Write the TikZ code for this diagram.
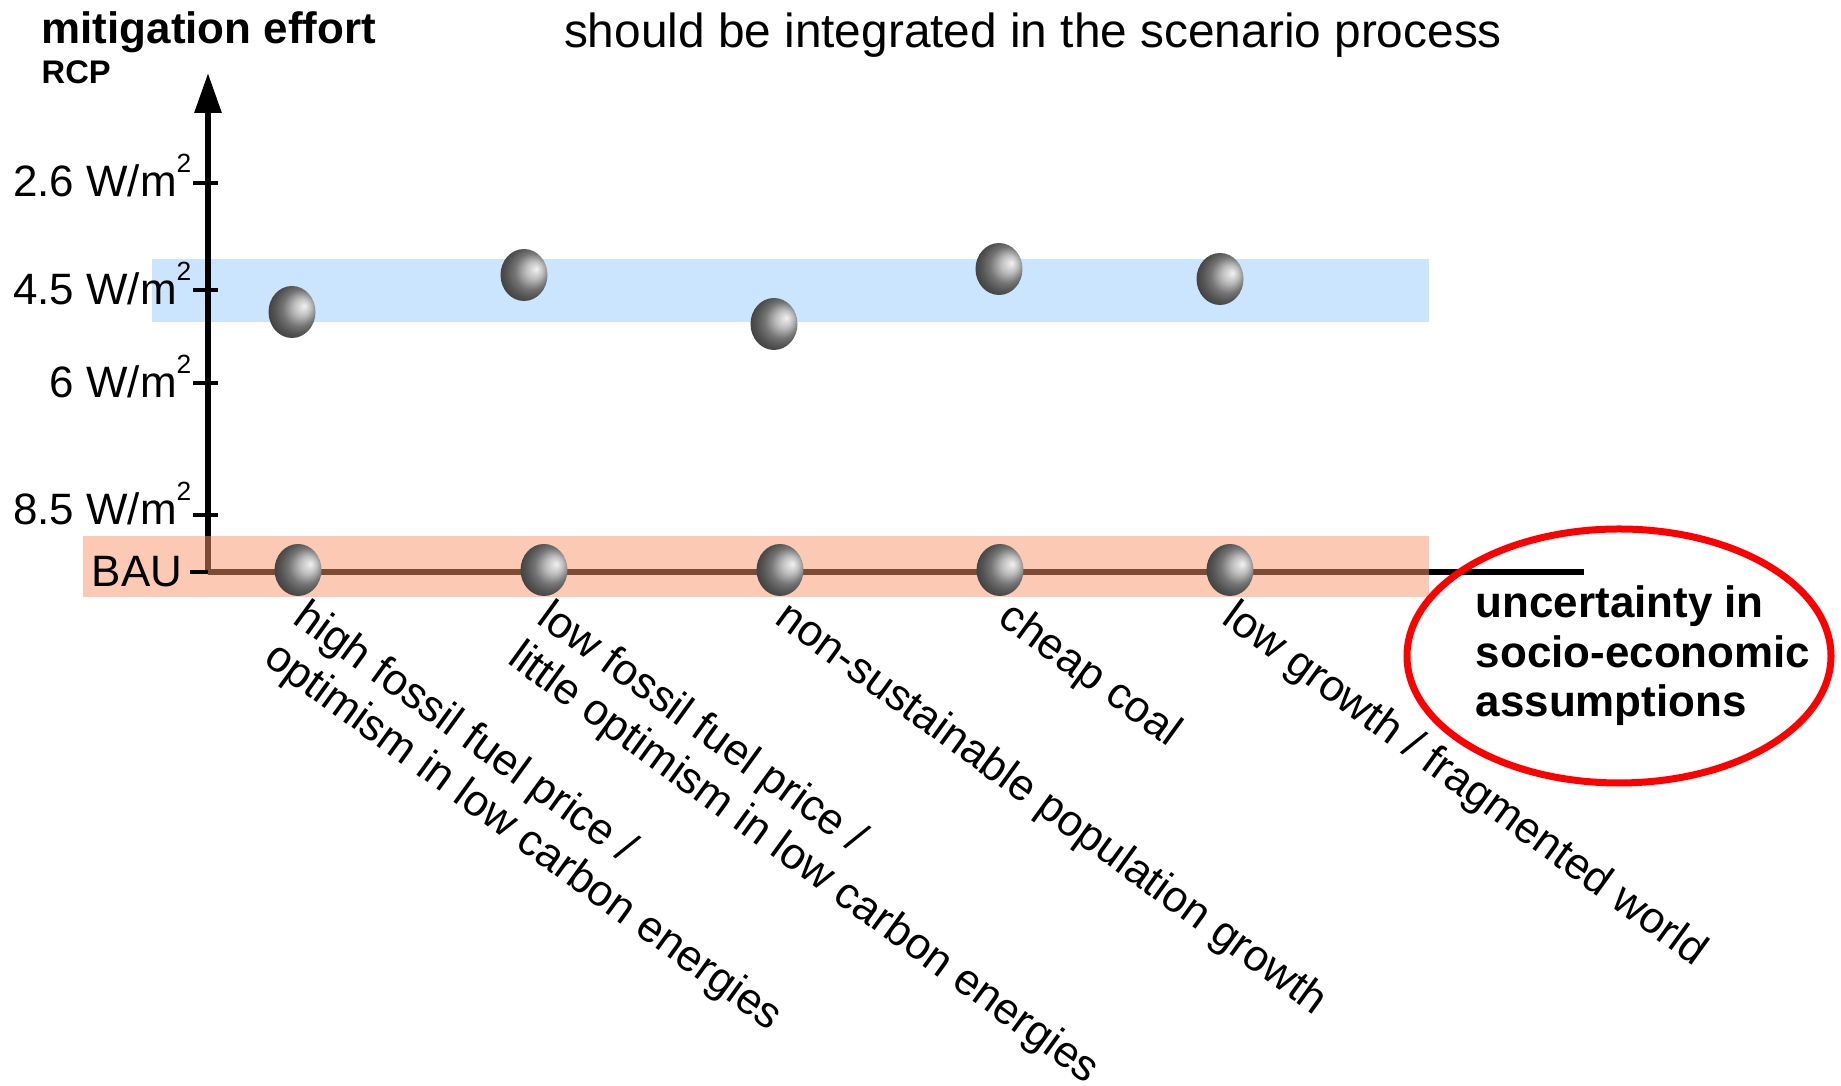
\documentclass[tikz,border=0pt]{standalone}
\usepackage{fontspec}
\setmainfont{Liberation Sans}
\usepackage{xcolor}
\usepackage{tikz}
\usetikzlibrary{arrows.meta}
\usetikzlibrary{calc}
\usetikzlibrary{shapes.geometric}

\definecolor{bandblue}{RGB}{204,229,255}
\definecolor{bandbau}{RGB}{250,148,108}
\definecolor{ringred}{RGB}{255,0,0}

\newcommand{\sqmark}{\raisebox{1.05ex}{\fontsize{7.5}{8}\selectfont 2}}

\tikzset{
	axisline/.style={line width=0.6mm},
	tickline/.style={line width=0.4mm},
	scenball/.style={ellipse,inner sep=0pt,minimum width=0.47cm,minimum height=0.52cm,shading=ball,ball color=gray!70,shading angle=-110},
	ticklab/.style={anchor=base east,inner sep=0pt,font=\fontsize{12.5}{14}\selectfont},
	scenlab/.style={anchor=north west,rotate=-36,align=left,inner sep=0pt,font=\fontsize{12.5}{14.2}\selectfont},
}

\begin{document}
\begin{tikzpicture}
	\useasboundingbox (0,0) rectangle (18.41,10.86);
	% titles
	\node[anchor=base west,inner sep=0pt,font=\bfseries\fontsize{12.5}{14}\selectfont] (mit) at (0.41,10.42) {mitigation effort};
	\node[anchor=base west,inner sep=0pt,font=\bfseries\fontsize{9.3}{10}\selectfont] (rcp) at (0.41,10.02) {RCP};
	\node[anchor=base,inner sep=0pt,font=\fontsize{13.6}{15}\selectfont] (sub) at (10.33,10.38) {should be integrated in the scenario process};
	% RCP band
	\fill[bandblue] (1.52,7.64) rectangle (14.29,8.27);
	% axes
	\coordinate (O) at (2.08,5.14);
	\coordinate (ytop) at (2.08,10.13);
	\coordinate (xend) at (15.84,5.14);
	\draw[axisline,-{Triangle[length=4mm,width=2.6mm]}] (O) -- (ytop);
	\draw[axisline] (O) -- (xend);
	\foreach \n/\y/\lab/\d in {1/9.03/2.6/0.14,2/7.96/4.5/0.15,3/7.03/6/0.15,4/5.71/8.5/0.10}{
		\draw[tickline] (1.93,\y) -- (2.18,\y);
		\node[ticklab] (t\n) at (1.92,\y-\d) {\lab\ W/m\sqmark};
	}
	% BAU band
	\fill[bandbau,opacity=0.5] (0.83,4.89) rectangle (14.29,5.50);
	\draw[tickline] (1.90,5.14) -- (O);
	\node[ticklab] (tbau) at (1.83,4.99) {BAU};
	% scenarios
	\foreach \n/\x in {1/2.98,2/5.44,3/7.80,4/10.00,5/12.30}
		\node[scenball] (b\n) at (\x,5.16) {};
	\foreach \n/\x/\y in {1/2.92/7.74,2/5.24/8.11,3/7.74/7.62,4/9.99/8.17,5/12.20/8.07}
		\node[scenball] (u\n) at (\x,\y) {};
	\node[scenlab] (l1) at ([xshift=0.12cm,yshift=0.01cm]b1.south) {high fossil fuel price /\\optimism in low carbon energies};
	\node[scenlab] (l2) at ([xshift=0.10cm,yshift=0.01cm]b2.south) {low fossil fuel price /\\little optimism in low carbon energies};
	\node[scenlab] (l3) at ([xshift=0.12cm,yshift=0.01cm]b3.south) {non-sustainable population growth};
	\node[scenlab] (l4) at ([xshift=0.15cm,yshift=0.01cm]b4.south) {cheap coal};
	\node[scenlab] (l5) at ([xshift=0.09cm,yshift=0.01cm]b5.south) {low growth / fragmented world};
	% uncertainty
	\node[align=left,inner sep=0pt,font=\bfseries\fontsize{12.5}{14.1}\selectfont] (unc) at (16.43,4.30) {uncertainty in\\socio-economic\\assumptions};
	\draw[ringred,line width=0.7mm] ([xshift=-0.24cm]unc.center) ellipse [x radius=2.12,y radius=1.27];
\end{tikzpicture}
\end{document}
